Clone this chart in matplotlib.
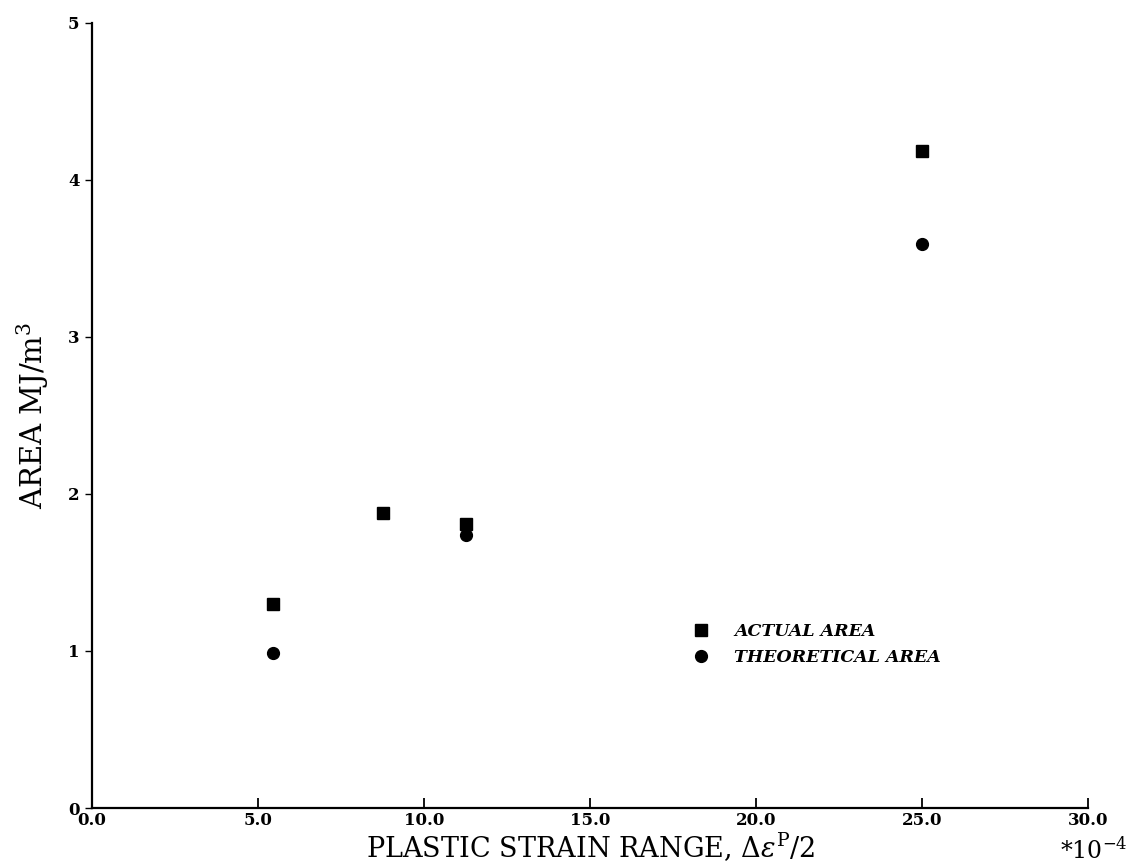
import matplotlib.pyplot as plt
import numpy as np

# plastic strain range (x 1e-4) and hysteresis loop area (MJ/m^3)
strain_actual = [5.45, 8.75, 11.25, 25.0]
area_actual = [1.30, 1.88, 1.81, 4.18]

strain_theory = [5.45, 11.25, 25.0]
area_theory = [0.99, 1.74, 3.59]

xticks = [0, 5, 10, 15, 20, 25, 30]
yticks = [0, 1, 2, 3, 4, 5]

plt.rcParams['font.family'] = ['DejaVu Serif']
plt.rcParams['mathtext.fontset'] = 'dejavuserif'

fig = plt.figure(figsize=(11.35, 8.67), dpi=100)
ax = fig.add_axes([0.081, 0.068, 0.878, 0.906])

ax.plot(strain_actual, area_actual, 's', color='black', markersize=8.5,
        label='ACTUAL AREA')
ax.plot(strain_theory, area_theory, 'o', color='black', markersize=8.5,
        label='THEORETICAL AREA')

ax.set_xlim(0, 30)
ax.set_ylim(0, 5)
ax.set_xticks(xticks)
ax.set_xticklabels([f"{t:.1f}" for t in xticks], fontweight='bold', fontsize=12)
ax.set_yticks(yticks)
ax.set_yticklabels([str(t) for t in yticks], fontweight='bold', fontsize=12)

ax.spines['top'].set_visible(False)
ax.spines['right'].set_visible(False)
ax.spines['left'].set_linewidth(1.6)
ax.spines['bottom'].set_linewidth(1.6)
ax.tick_params(axis='x', direction='in', length=7, width=1.3, pad=3)
ax.tick_params(axis='y', direction='out', length=5, width=1.0, pad=4)

ax.set_xlabel(r'PLASTIC STRAIN RANGE, $\Delta\varepsilon^{\mathrm{P}}/2$',
              fontsize=19.5, labelpad=1)
ax.set_ylabel(r'AREA MJ/m$^{\mathrm{3}}$', fontsize=21, labelpad=12)

ax.text(1.005, -0.054, r'*10$^{-4}$', transform=ax.transAxes,
        ha='center', va='center', fontsize=17)

ax.legend(loc='upper left', bbox_to_anchor=(0.578, 0.256), frameon=False,
          prop={'style': 'italic', 'weight': 'bold', 'size': 12.5},
          handletextpad=0.9, labelspacing=0.55, numpoints=1)

fig.savefig('out.png', dpi=100)
